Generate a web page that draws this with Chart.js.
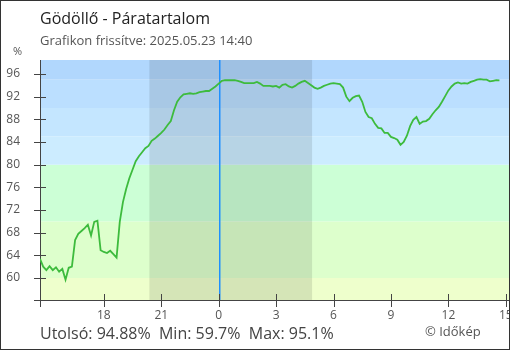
<!DOCTYPE html>
<html>
<head>
<meta charset="utf-8">
<script src="https://cdn.jsdelivr.net/npm/chart.js@4/dist/chart.umd.min.js"></script>
<style>
  html, body { margin: 0; padding: 0; background: #fff; }
  #box { width: 510px; height: 350px; box-sizing: border-box; border: 1px solid #333; overflow: hidden; }
  canvas { display: block; }
</style>
</head>
<body>
<div id="box"><canvas id="para" width="508" height="348"></canvas></div>
<script>
// adatok: 10 percenként, 2025.05.22 14:40 -> 2025.05.23 14:40 (órák éjfélhez képest)
const kezdoOra = -9 - 20 / 60
const lepesPerc = 10
const paratartalom = [
  63.4, 62.0, 61.4, 62.1, 61.4, 61.9, 61.1, 61.6, 59.7, 61.8,
  62.0, 66.7, 67.8, 68.3, 68.8, 69.4, 67.5, 69.9, 70.1, 64.9,
  64.6, 64.4, 64.8, 64.2, 63.6, 69.9, 73.4, 75.7, 77.6, 79.1,
  80.6, 81.5, 82.2, 82.9, 83.3, 84.2, 84.6, 85.1, 85.6, 86.2,
  87.0, 87.7, 89.6, 91.1, 91.9, 92.4, 92.5, 92.6, 92.5, 92.6,
  92.8, 92.9, 93.0, 93.0, 93.4, 93.8, 94.3, 94.8, 94.9, 94.9,
  94.9, 94.9, 94.8, 94.6, 94.4, 94.4, 94.4, 94.4, 94.6, 94.3,
  93.9, 93.9, 93.9, 93.8, 93.9, 93.6, 94.1, 94.2, 93.8, 93.6,
  93.9, 94.3, 94.6, 94.8, 94.4, 94.0, 93.6, 93.4, 93.6, 93.9,
  94.1, 94.3, 94.4, 94.3, 94.2, 93.6, 92.0, 91.2, 91.8, 92.1,
  92.2, 91.1, 89.3, 88.4, 88.2, 87.2, 86.5, 86.4, 85.6, 85.6,
  84.9, 84.7, 84.4, 83.5, 84.0, 85.1, 86.8, 87.9, 88.4, 87.2,
  87.6, 87.7, 88.1, 88.9, 89.6, 90.2, 91.1, 92.1, 93.1, 93.8,
  94.3, 94.5, 94.3, 94.4, 94.3, 94.6, 94.8, 95.0, 95.1, 95.0,
  95.0, 94.7, 94.8, 94.9, 94.88
]
const xTickErtekek = [-6, -3, 0, 3, 6, 9, 12, 15]
const xTickCimkek = ['18', '21', '0', '3', '6', '9', '12', '15']
const yTickErtekek = [60, 64, 68, 72, 76, 80, 84, 88, 92, 96]
const savHatarok = [60, 70, 80, 85, 90, 95]
const ejjel = [-3.62, 4.88]

const savSzinek = ['#eeffcc', '#ddffcc', '#ccffd6', '#ccecff', '#c4e6ff', '#bbdfff', '#b1d7fd']
const fonts = '"Open Sans", "Noto Sans", sans-serif'

const pontok = paratartalom.map((v, i) => ({ x: kezdoOra + i * lepesPerc / 60, y: v }))

const hatter = {
  id: 'hatter',
  beforeDraw(chart) {
    const { ctx, chartArea: a, scales: { x, y } } = chart
    ctx.save()
    const hat = [y.min, ...savHatarok, y.max]
    for (let i = 0; i < hat.length - 1; i++) {
      const t = y.getPixelForValue(hat[i + 1])
      const b = y.getPixelForValue(hat[i])
      ctx.fillStyle = savSzinek[i]
      ctx.fillRect(a.left, t, a.right - a.left, b - t)
    }
    const e0 = x.getPixelForValue(ejjel[0])
    const e1 = x.getPixelForValue(ejjel[1])
    ctx.fillStyle = 'rgba(0,0,0,0.1)'
    ctx.fillRect(e0, a.top, e1 - e0, a.bottom - a.top)
    // éjfél jelölő
    const px = Math.round(x.getPixelForValue(0))
    ctx.fillStyle = '#1e90ff'
    ctx.fillRect(px, a.top, 1.5, a.bottom - a.top)
    ctx.restore()
  },
  afterDraw(chart) {
    const { ctx, chartArea: a, scales: { x, y } } = chart
    ctx.save()
    ctx.strokeStyle = '#444'
    ctx.lineWidth = 1
    ctx.beginPath()
    for (const v of [y.min, ...yTickErtekek]) {
      const py = Math.round(y.getPixelForValue(v)) + 0.5
      ctx.moveTo(a.left - 6, py)
      ctx.lineTo(a.left + 6, py)
    }
    for (const v of [x.min, ...xTickErtekek]) {
      const px = Math.round(x.getPixelForValue(v)) + 0.5
      ctx.moveTo(px, a.bottom - 6)
      ctx.lineTo(px, a.bottom + 7)
    }
    ctx.stroke()

    ctx.textAlign = 'left'
    ctx.textBaseline = 'alphabetic'
    ctx.fillStyle = '#222'
    ctx.font = '16px ' + fonts
    ctx.fillText('Gödöllő - Páratartalom', 39, 23)
    ctx.fillStyle = '#555'
    ctx.font = '13px ' + fonts
    ctx.fillText('Grafikon frissítve: 2025.05.23 14:40', 39, 44)
    ctx.font = '11px ' + fonts
    ctx.fillText('%', 12, 54)
    ctx.fillStyle = '#444'
    ctx.font = '16px ' + fonts
    ctx.fillText('Utolsó: 94.88%  Min: 59.7%  Max: 95.1%', 39, 338)
    ctx.fillStyle = '#555'
    ctx.font = '13px ' + fonts
    ctx.fillText('© Időkép', 424, 335)
    ctx.restore()
  }
}

new Chart(document.getElementById('para'), {
  type: 'line',
  data: {
    datasets: [{
      data: pontok,
      borderColor: '#3dbb3d',
      borderWidth: 1.8,
      pointRadius: 0,
      tension: 0,
      fill: false
    }]
  },
  options: {
    responsive: false,
    animation: false,
    layout: { padding: { top: 59, left: 0, right: 0, bottom: 0 } },
    plugins: { legend: { display: false }, tooltip: { enabled: false } },
    scales: {
      x: {
        type: 'linear',
        min: -9 - 20 / 60,
        max: 15 + 10 / 60,
        afterBuildTicks: s => { s.ticks = xTickErtekek.map(v => ({ value: v })) },
        afterFit: s => { s.height = 49; s.paddingLeft = 0; s.paddingRight = 0 },
        grid: { display: false, drawTicks: false },
        border: { color: '#444', width: 1 },
        ticks: {
          autoSkip: false, maxRotation: 0, padding: 8,
          color: '#555', font: { family: fonts, size: 12 },
          callback: (v, i) => xTickCimkek[i]
        }
      },
      y: {
        min: 56.12,
        max: 98.47,
        afterBuildTicks: s => { s.ticks = yTickErtekek.map(v => ({ value: v })) },
        afterFit: s => { s.width = 39; s.paddingTop = 0; s.paddingBottom = 0 },
        grid: { display: false, drawTicks: false },
        border: { color: '#444', width: 1 },
        ticks: {
          padding: 20,
          color: '#555', font: { family: fonts, size: 12 },
          callback: v => String(v)
        }
      }
    }
  },
  plugins: [hatter]
})
</script>
</body>
</html>
